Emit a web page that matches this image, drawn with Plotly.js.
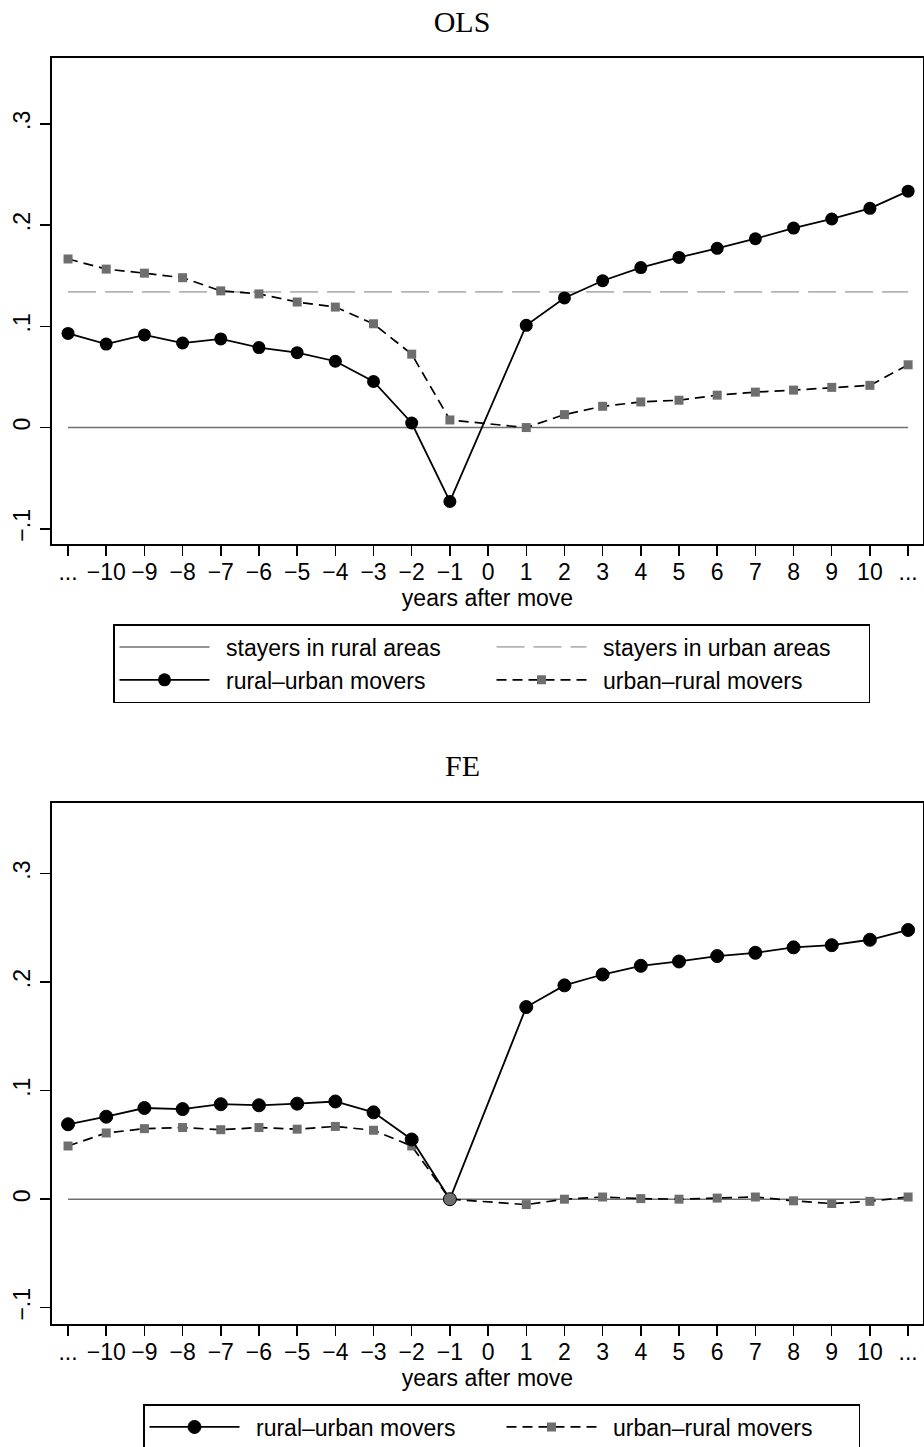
<!DOCTYPE html>
<html>
<head>
<meta charset="utf-8">
<script src="https://cdn.plot.ly/plotly-3.0.1.min.js"></script>
<style>
  html, body { margin: 0; padding: 0; background: #ffffff; }
  #chart { width: 924px; height: 1447px; }
</style>
</head>
<body>
<div id="chart"></div>
<script>
// Event-time axis: "..." bins at both ends, -10 ... 10 in between
const yearPos = [-11, -10, -9, -8, -7, -6, -5, -4, -3, -2, -1, 0, 1, 2, 3, 4, 5, 6, 7, 8, 9, 10, 11];
const yearLabels = ['...', '\u221210', '\u22129', '\u22128', '\u22127', '\u22126', '\u22125', '\u22124', '\u22123', '\u22122', '\u22121',
                    '0', '1', '2', '3', '4', '5', '6', '7', '8', '9', '10', '...'];

// Periods with an estimate (no estimate in the move year itself)
const moverYears = [-11, -10, -9, -8, -7, -6, -5, -4, -3, -2, -1, 1, 2, 3, 4, 5, 6, 7, 8, 9, 10, 11];

// OLS estimates
const olsRuralUrban = [0.093, 0.0825, 0.0915, 0.0835, 0.0875, 0.079, 0.074, 0.0655, 0.0455, 0.0045, -0.073,
                       0.101, 0.128, 0.145, 0.158, 0.168, 0.177, 0.1865, 0.197, 0.206, 0.2165, 0.2335];
const olsUrbanRural = [0.1665, 0.1565, 0.1525, 0.148, 0.135, 0.132, 0.124, 0.119, 0.1025, 0.0725, 0.0075,
                       0.0, 0.0128, 0.021, 0.0253, 0.027, 0.032, 0.035, 0.037, 0.0397, 0.0417, 0.062];

// Stayer reference levels (span the full event window)
const stayerYears = [-11, 11];
const stayersRural = [0, 0];
const stayersUrban = [0.134, 0.134];

// FE estimates
const feRuralUrban = [0.069, 0.076, 0.084, 0.083, 0.0875, 0.0865, 0.088, 0.090, 0.080, 0.055, 0.0,
                      0.177, 0.197, 0.207, 0.215, 0.219, 0.224, 0.227, 0.232, 0.234, 0.239, 0.248];
const feUrbanRural = [0.049, 0.061, 0.065, 0.066, 0.064, 0.066, 0.0645, 0.067, 0.0635, 0.049, 0.0,
                      -0.005, 0.0, 0.002, 0.0005, 0.0, 0.001, 0.002, -0.0015, -0.004, -0.002, 0.002];

// y-axis ticks
const yTickVals = [-0.1, 0, 0.1, 0.2, 0.3];
const yTickText = ['\u2212.1', '0', '.1', '.2', '.3'];

const W = 924, H = 1447;
const SANS = 'Liberation Sans, Arial, sans-serif';
const SERIF = 'Liberation Serif, Times New Roman, serif';
const GRAY_MARK = '#6e6e6e';
const GRAY_RURAL = '#707070';
const GRAY_URBAN = '#b4b4b4';
const GAP = '\u2002';   // small gap between legend key and label

const px = v => v / W;
const py = v => (H - v) / H;

const traces = [
  // --- OLS panel ---
  { x: stayerYears, y: stayersRural, xaxis: 'x', yaxis: 'y', mode: 'lines',
    name: GAP + 'stayers in rural areas', legend: 'legend', legendrank: 1,
    line: { color: GRAY_RURAL, width: 1.6 } },
  { x: stayerYears, y: stayersUrban, xaxis: 'x', yaxis: 'y', mode: 'lines',
    name: GAP + 'stayers in urban areas', legend: 'legend', legendrank: 2,
    line: { color: GRAY_URBAN, width: 1.8, dash: '28px,9px' } },
  { x: moverYears, y: olsRuralUrban, xaxis: 'x', yaxis: 'y', mode: 'lines+markers',
    name: GAP + 'rural\u2013urban movers', legend: 'legend', legendrank: 3,
    line: { color: '#000000', width: 1.8 },
    marker: { symbol: 'circle', size: 13, color: '#000000' } },
  { x: moverYears, y: olsUrbanRural, xaxis: 'x', yaxis: 'y', mode: 'lines+markers',
    name: GAP + 'urban\u2013rural movers', legend: 'legend', legendrank: 4,
    line: { color: '#000000', width: 1.7, dash: '10px,6px' },
    marker: { symbol: 'square', size: 9, color: GRAY_MARK } },

  // --- FE panel ---
  { x: stayerYears, y: stayersRural, xaxis: 'x2', yaxis: 'y2', mode: 'lines',
    showlegend: false, hoverinfo: 'skip',
    line: { color: GRAY_RURAL, width: 1.6 } },
  { x: moverYears, y: feUrbanRural, xaxis: 'x2', yaxis: 'y2', mode: 'lines+markers',
    name: GAP + 'urban\u2013rural movers', legend: 'legend2', legendrank: 2,
    line: { color: '#000000', width: 1.7, dash: '10px,6px' },
    marker: { symbol: 'square', size: 9, color: GRAY_MARK } },
  { x: moverYears, y: feRuralUrban, xaxis: 'x2', yaxis: 'y2', mode: 'lines+markers',
    name: GAP + 'rural\u2013urban movers', legend: 'legend2', legendrank: 1,
    line: { color: '#000000', width: 1.8 },
    marker: { symbol: 'circle', size: 13,
              // reference period (-1) is normalised to zero and drawn grey
              color: moverYears.map(t => t === -1 ? GRAY_MARK : '#000000'),
              line: { color: '#000000', width: 1 } } }
];

function xAxis(anchor) {
  return {
    anchor: anchor,
    domain: [px(52), px(923)],
    range: [-11.42, 11.39],
    tickmode: 'array', tickvals: yearPos, ticktext: yearLabels,
    ticks: 'outside', ticklen: 10, tickwidth: 1.5, tickcolor: '#000000',
    tickfont: { family: SANS, size: 23, color: '#000000' },
    ticklabelstandoff: -4,
    showline: true, linecolor: '#000000', linewidth: 2, mirror: true,
    showgrid: false, zeroline: false,
    title: { text: 'years after move', font: { family: SANS, size: 23, color: '#000000' }, standoff: 0 }
  };
}
function yAxis(anchor, top, bottom) {
  return {
    anchor: anchor,
    domain: [py(bottom), py(top)],
    range: [-0.115, 0.365],
    tickmode: 'array', tickvals: yTickVals, ticktext: yTickText,
    tickangle: -90,
    ticks: 'outside', ticklen: 10, tickwidth: 1.5, tickcolor: '#000000',
    tickfont: { family: SANS, size: 23, color: '#000000' },
    ticklabelstandoff: 1,
    showline: true, linecolor: '#000000', linewidth: 2, mirror: true,
    showgrid: false, zeroline: false
  };
}

const legendCommon = {
  orientation: 'h', xanchor: 'left', yanchor: 'top',
  bgcolor: '#ffffff', bordercolor: '#000000', borderwidth: 1.5,
  font: { family: SANS, size: 23, color: '#000000' },
  itemwidth: 90, traceorder: 'normal'
};

const layout = {
  width: W, height: H,
  margin: { l: 0, r: 0, t: 0, b: 0, autoexpand: false },
  paper_bgcolor: '#ffffff', plot_bgcolor: '#ffffff',
  showlegend: true,
  title: { text: 'OLS', xref: 'container', x: 0.5, xanchor: 'center',
           yref: 'container', y: py(21), yanchor: 'middle',
           font: { family: SERIF, size: 30, color: '#000000' } },
  annotations: [
    { text: 'FE', xref: 'paper', yref: 'paper', x: 0.5, y: py(765),
      xanchor: 'center', yanchor: 'middle', showarrow: false,
      font: { family: SERIF, size: 30, color: '#000000' } }
  ],
  xaxis: xAxis('y'),
  yaxis: yAxis('x', 58, 544),
  xaxis2: xAxis('y2'),
  yaxis2: yAxis('x2', 803, 1324),
  legend: Object.assign({}, legendCommon, { x: px(113), y: py(624), entrywidth: 272 }),
  legend2: Object.assign({}, legendCommon, { x: px(143), y: py(1404), entrywidth: 252 })
};

Plotly.newPlot('chart', traces, layout, { staticPlot: true, displayModeBar: false });
</script>
</body>
</html>
